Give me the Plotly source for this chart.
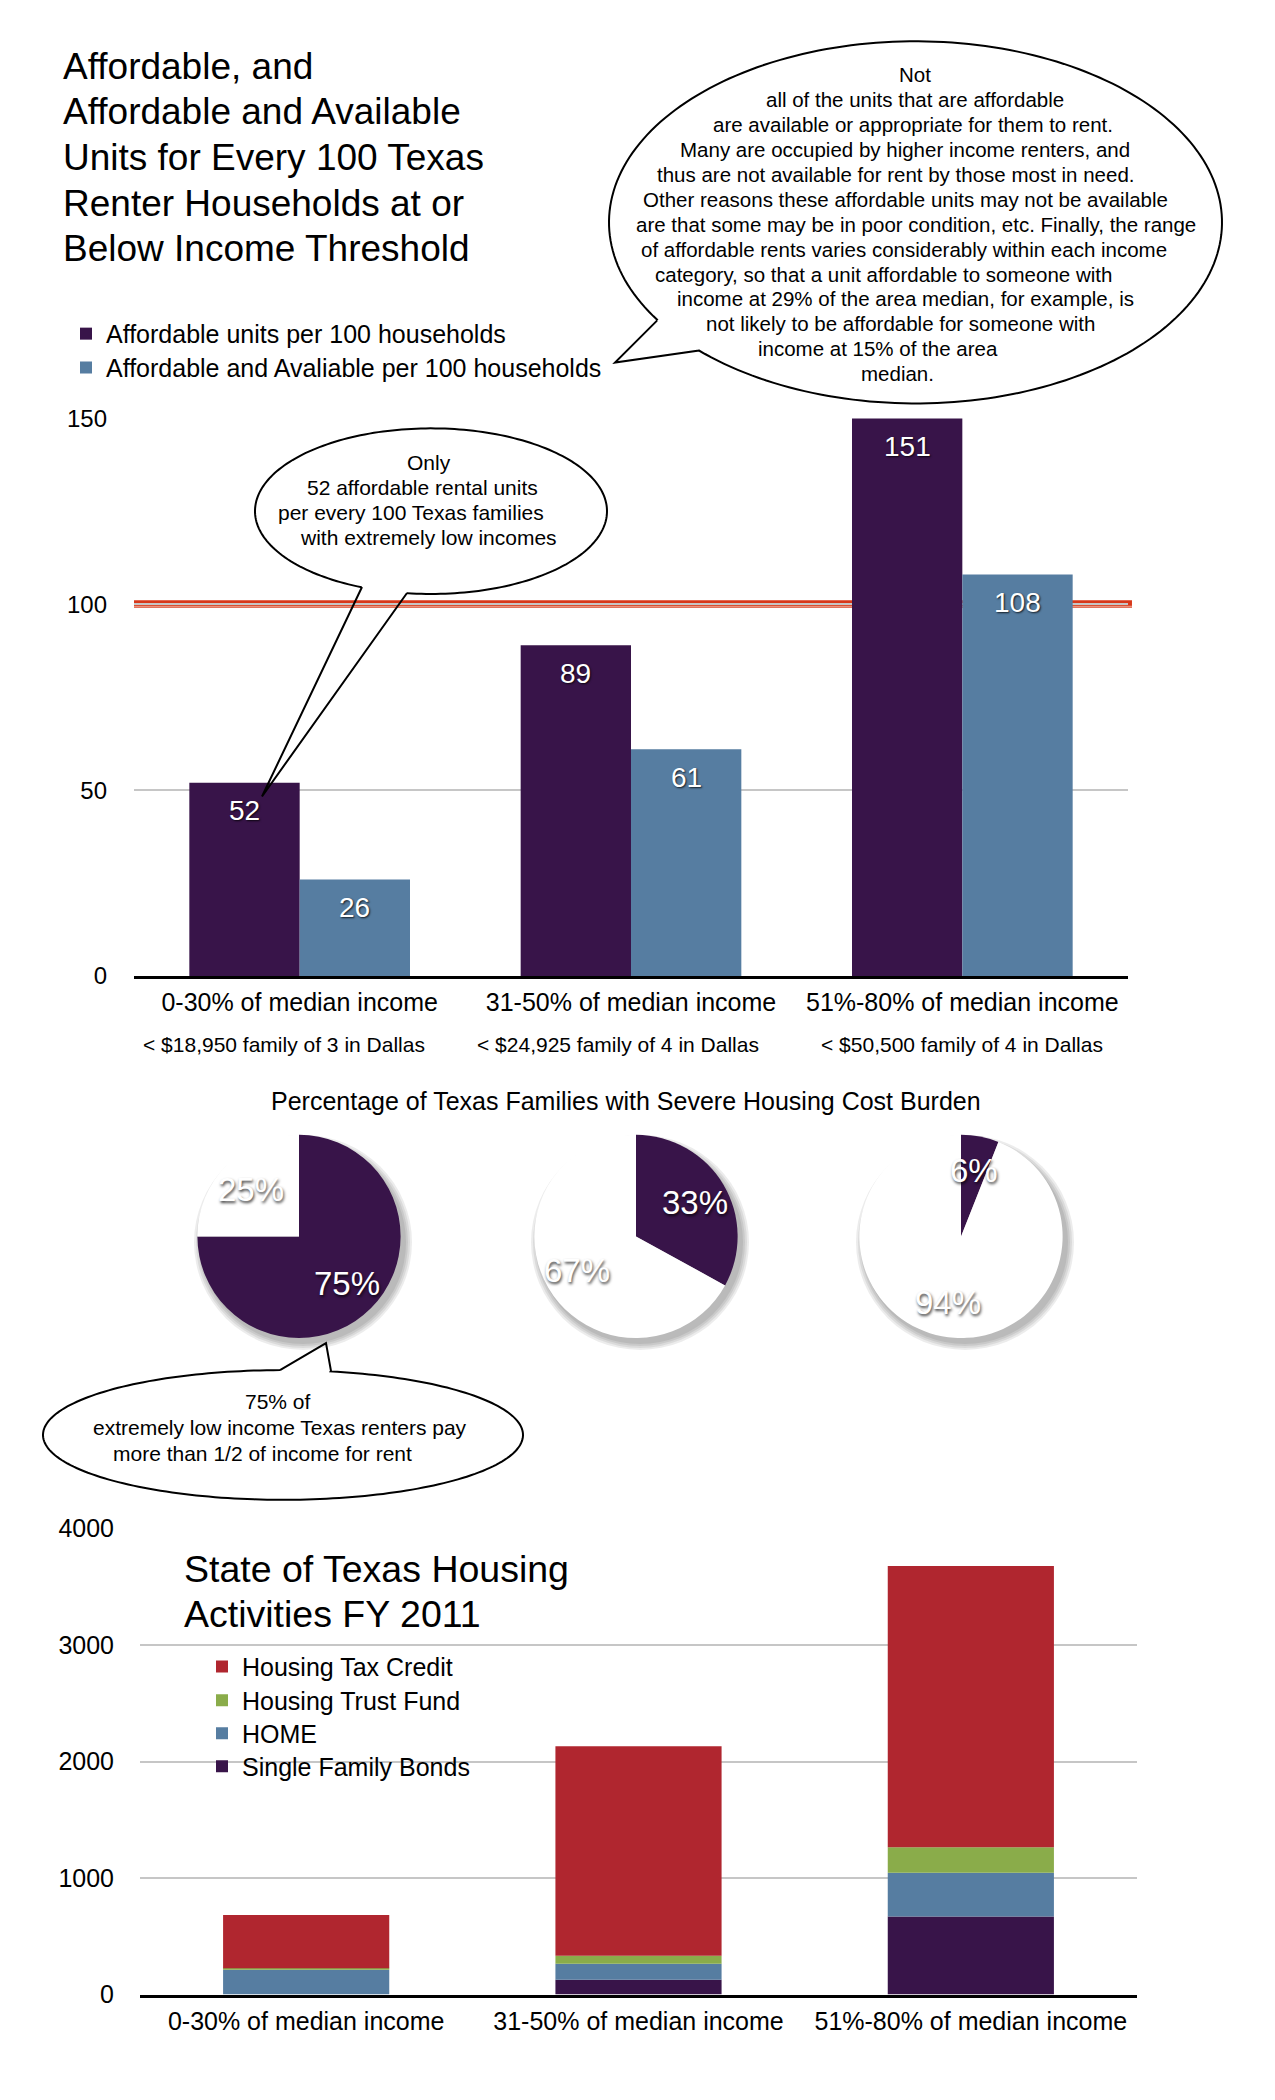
import math
import numpy as np
import plotly.graph_objects as go

# Page: 1275x2100 window; browser body has an 8px margin, so the figure is
# sized to fit inside it and all layout positions are given in window pixels.
W, H = 1275, 2100
OFF = 8
FIG_W, FIG_H = W - 2 * OFF, H - 2 * OFF
V_SCALE, V_SHIFT = 1.0112, -12.9   # vertical calibration of layout positions
FONT = "Liberation Sans, Arial, Helvetica, sans-serif"

# ---------------- data ----------------
CATEGORIES = ["0-30% of median income", "31-50% of median income", "51%-80% of median income"]
INCOME_NOTES = ["< $18,950 family of 3 in Dallas", "< $24,925 family of 4 in Dallas",
                "< $50,500 family of 4 in Dallas"]
SERIES_TOP = ["Affordable units per 100 households", "Affordable and Avaliable per 100 households"]
AFFORDABLE = [52, 89, 151]
AFFORDABLE_AVAILABLE = [26, 61, 108]
TOP_TICKS = [0, 50, 100, 150]
BENCHMARK = 100
TOP_TITLE = ["Affordable, and", "Affordable and Available", "Units for Every 100 Texas",
             "Renter Households at or", "Below Income Threshold"]

PIE_TITLE = "Percentage of Texas Families with Severe Housing Cost Burden"
SEVERE_BURDEN = [75, 33, 6]
PIE_LABELS = ["Severe housing cost burden", "Other"]

STACK_SERIES = ["Single Family Bonds", "HOME", "Housing Trust Fund", "Housing Tax Credit"]
SINGLE_FAMILY_BONDS = [0, 128, 670]
HOME_UNITS = [214, 137, 377]
HOUSING_TRUST_FUND = [12, 68, 218]
HOUSING_TAX_CREDIT = [458, 1799, 2414]
STACK_TICKS = [0, 1000, 2000, 3000, 4000]
STACK_TITLE = ["State of Texas Housing", "Activities FY 2011"]

NOTE_AVAILABLE = ["Not", "all of the units that are affordable",
                  "are available or appropriate for them to rent.",
                  "Many are occupied by higher income renters, and",
                  "thus are not available for rent by those most in need.",
                  "Other reasons these affordable units may not be available",
                  "are that some may be in poor condition, etc. Finally, the range",
                  "of affordable rents varies considerably within each income",
                  "category, so that a unit affordable to someone with",
                  "income at 29% of the area median, for example, is",
                  "not likely to be affordable for someone with",
                  "income at 15% of the area", "median."]
NOTE_ONLY = ["Only", "52 affordable rental units", "per every 100 Texas families",
             "with extremely low incomes"]
NOTE_BURDEN = ["75% of", "extremely low income Texas renters pay", "more than 1/2 of income for rent"]

# ---------------- styles / layout positions (window pixels) ----------------
PURPLE = "#381449"
BLUE = "#567da1"
RED = "#b0262f"
GREEN = "#8aac4a"
BENCH = "#d8381a"
GRID = "#c6c6c6"

NOTE_AVAILABLE_X = [915, 915, 913, 905, 895, 905, 916, 904, 883, 905, 900, 878, 898]
NOTE_ONLY_X = [429, 423, 411, 429]
NOTE_BURDEN_X = [278, 280, 262]
INCOME_NOTE_SHIFT = [-16, -13, 0]
LEGEND_FONT = 25
# one legend box per entry so each row sits where the original puts it
TOP_LEGEND_IDS = ["legend", "legend3"]
TOP_LEGEND_ROWS = [333, 367]
STACK_LEGEND_IDS = ["legend6", "legend5", "legend4", "legend2"]   # SFB, HOME, HTF, HTC
STACK_LEGEND_ROWS = [1769, 1736, 1703, 1669]


def px(x):
    return (x - OFF) / FIG_W


def py(y):
    return 1 - (y * V_SCALE + V_SHIFT - OFF) / FIG_H


fig = go.Figure()

# ---------- chart 1 : grouped bars ----------
for name, vals, color, off, lg in [(SERIES_TOP[0], AFFORDABLE, PURPLE, -0.333, TOP_LEGEND_IDS[0]),
                                   (SERIES_TOP[1], AFFORDABLE_AVAILABLE, BLUE, 0.0, TOP_LEGEND_IDS[1])]:
    fig.add_trace(go.Bar(x=CATEGORIES, y=vals, name=name, marker=dict(color=color, line=dict(width=0)),
                         width=0.333, offset=off, xaxis="x", yaxis="y", legend=lg,
                         hoverinfo="y+name"))

# ---------- chart 3 : stacked bars ----------
stack_values = [SINGLE_FAMILY_BONDS, HOME_UNITS, HOUSING_TRUST_FUND, HOUSING_TAX_CREDIT]
stack_colors = [PURPLE, BLUE, GREEN, RED]
bases = np.cumsum(np.array([[0, 0, 0]] + stack_values[:-1]), axis=0)
for name, vals, base, color, lg in zip(STACK_SERIES, stack_values, bases, stack_colors, STACK_LEGEND_IDS):
    fig.add_trace(go.Bar(x=CATEGORIES, y=vals, base=base.tolist(), name=name,
                         marker=dict(color=color, line=dict(width=0)),
                         width=0.5, offset=-0.25, xaxis="x2", yaxis="y2", legend=lg,
                         hoverinfo="y+name"))

# ---------- pies ----------
PIE_CX = [299, 636, 961]
PIE_CY = 1238
PIE_R = 103
shapes = []
annotations = []
for p, cx in zip(SEVERE_BURDEN, PIE_CX):
    cy_frac = py(PIE_CY)
    ry_f = PIE_R / FIG_H
    # soft drop shadow
    for rr in [PIE_R + 6, PIE_R + 4, PIE_R + 2, PIE_R]:
        ox = px(cx + 4)
        oy = cy_frac - 6 / FIG_H
        shapes.append(dict(type="circle", xref="paper", yref="paper",
                           x0=ox - rr / FIG_W, x1=ox + rr / FIG_W, y0=oy - rr / FIG_H, y1=oy + rr / FIG_H,
                           fillcolor="rgba(0,0,0,0.075)", line=dict(width=0), layer="below"))
    fig.add_trace(go.Pie(values=[p, 100 - p], labels=PIE_LABELS, sort=False, direction="clockwise",
                         rotation=0, textinfo="none", showlegend=False,
                         marker=dict(colors=[PURPLE, "white"], line=dict(width=0)),
                         domain=dict(x=[px(cx - PIE_R), px(cx + PIE_R)],
                                     y=[cy_frac - ry_f, cy_frac + ry_f])))
    cum = 0
    for v in [p, 100 - p]:
        mid = (cum + v / 2) / 100 * 2 * math.pi
        lx = px(cx + 0.66 * PIE_R * math.sin(mid))
        ly = cy_frac + 0.66 * PIE_R * math.cos(mid) / FIG_H
        annotations.append(dict(x=lx, y=ly, xref="paper", yref="paper", text=f"{v}%",
                                showarrow=False, xanchor="center", yanchor="middle",
                                font=dict(family=FONT, size=33, color="white",
                                          shadow="1px 2px 3px rgba(0,0,0,0.75)")))
        cum += v

# ---------- bar value labels ----------
for vals, off in [(AFFORDABLE, -0.1665), (AFFORDABLE_AVAILABLE, 0.1665)]:
    for i, v in enumerate(vals):
        annotations.append(dict(x=i + off, y=min(v, TOP_TICKS[-1]), xref="x", yref="y", text=str(v),
                                showarrow=False, yshift=-28, xanchor="center", yanchor="middle",
                                font=dict(family=FONT, size=28, color="white",
                                          shadow="1px 1px 2px rgba(0,0,0,0.8)")))

# income notes under categories
for i, note in enumerate(INCOME_NOTES):
    annotations.append(dict(x=i, y=py(1046), xref="x", yref="paper", text=note, showarrow=False,
                            xanchor="center", yanchor="middle", xshift=INCOME_NOTE_SHIFT[i],
                            font=dict(family=FONT, size=21, color="black")))

# titles
for k, line in enumerate(TOP_TITLE):
    annotations.append(dict(x=px(61), y=py(65 + 45.8 * k), xref="paper", yref="paper", text=line,
                            showarrow=False, xanchor="left", yanchor="middle",
                            font=dict(family=FONT, size=37, color="black")))
for k, line in enumerate(STACK_TITLE):
    annotations.append(dict(x=px(182), y=py(1571 + 45 * k), xref="paper", yref="paper", text=line,
                            showarrow=False, xanchor="left", yanchor="middle",
                            font=dict(family=FONT, size=37.5, color="black")))
annotations.append(dict(x=px(626), y=py(1102), xref="paper", yref="paper", text=PIE_TITLE,
                        showarrow=False, xanchor="center", yanchor="middle",
                        font=dict(family=FONT, size=25, color="black")))


# ---------- speech bubbles ----------
def bubble(cx, cy, rx, ry, a, b, tip, n=220):
    ta = math.atan2((a[1] - cy) / ry, (a[0] - cx) / rx)
    tb = math.atan2((b[1] - cy) / ry, (b[0] - cx) / rx)
    d = (ta - tb) % (2 * math.pi)
    if d < math.pi:
        d -= 2 * math.pi
    arc = [(cx + rx * math.cos(tb + d * s / n), cy + ry * math.sin(tb + d * s / n)) for s in range(n + 1)]
    pts = [(cx + rx * math.cos(2 * math.pi * s / n), cy + ry * math.sin(2 * math.pi * s / n)) for s in range(n)]
    fill = "M" + "L".join(f"{px(x):.5f},{py(y):.5f}" for x, y in pts) + "Z"
    outline = "M" + "L".join(f"{px(x):.5f},{py(y):.5f}" for x, y in [a, tip, b] + arc)
    return [dict(type="path", path=fill, xref="paper", yref="paper", fillcolor="white",
                 line=dict(width=0), layer="above"),
            dict(type="path", path=outline, xref="paper", yref="paper", fillcolor="rgba(0,0,0,0)",
                 line=dict(color="black", width=2), layer="above")]


shapes += bubble(915.5, 221.5, 306.5, 181.5, (657, 320), (699, 350), (615, 362))
shapes += bubble(431, 511, 176, 83, (362, 587), (407, 593), (262, 797))
shapes += bubble(283, 1437, 240, 65, (280, 1372), (331, 1373), (326, 1345))

for lines, xs, y0, step, size in [(NOTE_AVAILABLE, NOTE_AVAILABLE_X, 73.3, 25.0, 20.5),
                                  (NOTE_ONLY, NOTE_ONLY_X, 462, 25.0, 21),
                                  (NOTE_BURDEN, NOTE_BURDEN_X, 1403.5, 25.8, 21)]:
    for k, (line, x) in enumerate(zip(lines, xs)):
        annotations.append(dict(x=px(x), y=py(y0 + step * k), xref="paper", yref="paper", text=line,
                                showarrow=False, xanchor="center", yanchor="middle",
                                font=dict(family=FONT, size=size, color="black")))

# ---------- benchmark line ----------
shapes.append(dict(type="line", xref="x domain", yref="y", x0=0, x1=1.004, y0=BENCHMARK + 0.1,
                   y1=BENCHMARK + 0.1, line=dict(color=BENCH, width=7.5), layer="below"))
shapes.append(dict(type="line", xref="x domain", yref="y", x0=0, x1=1.004, y0=BENCHMARK - 0.6,
                   y1=BENCHMARK - 0.6, line=dict(color="#e8937e", width=1.3), layer="below"))

# ---------- legends ----------
legends = {}
row_half = 5 + (1.3 * LEGEND_FONT + 3) / 2
for lid, row in zip(TOP_LEGEND_IDS, TOP_LEGEND_ROWS):
    legends[lid] = dict(x=px(66), y=py(row - row_half), xanchor="left", yanchor="top",
                        bgcolor="rgba(0,0,0,0)", font=dict(size=LEGEND_FONT),
                        itemclick=False, itemdoubleclick=False)
for lid, row in zip(STACK_LEGEND_IDS, STACK_LEGEND_ROWS):
    legends[lid] = dict(x=px(202), y=py(row - row_half), xanchor="left", yanchor="top",
                        bgcolor="rgba(0,0,0,0)", font=dict(size=LEGEND_FONT),
                        itemclick=False, itemdoubleclick=False)

fig.update_layout(
    width=FIG_W, height=FIG_H, margin=dict(l=0, r=0, t=0, b=0),
    paper_bgcolor="white", plot_bgcolor="rgba(0,0,0,0)",
    barmode="overlay",
    font=dict(family=FONT, color="black"),
    xaxis=dict(domain=[px(134), px(1128)], anchor="y", type="category", range=[-0.5, 2.5],
               showline=True, linecolor="black", linewidth=2.5, showgrid=False, ticks="",
               tickfont=dict(size=25), ticklabelstandoff=2, fixedrange=True),
    yaxis=dict(domain=[py(977), py(418)], anchor="x", range=[0, 150], tickvals=TOP_TICKS,
               showgrid=True, gridcolor=GRID, gridwidth=2, zeroline=False, ticks="",
               tickfont=dict(size=24), ticklabelstandoff=26, fixedrange=True),
    xaxis2=dict(domain=[px(140), px(1137)], anchor="y2", type="category", range=[-0.5, 2.5],
                showline=True, linecolor="black", linewidth=2.5, showgrid=False, ticks="",
                tickfont=dict(size=25), ticklabelstandoff=3, fixedrange=True),
    yaxis2=dict(domain=[py(1998), py(1531)], anchor="x2", range=[0, 4000], tickvals=STACK_TICKS,
                showgrid=True, gridcolor=GRID, gridwidth=2, zeroline=False, ticks="",
                tickfont=dict(size=25), ticklabelstandoff=25, fixedrange=True),
    shapes=shapes,
    annotations=annotations,
    **legends,
)

fig.write_html("out.html")
